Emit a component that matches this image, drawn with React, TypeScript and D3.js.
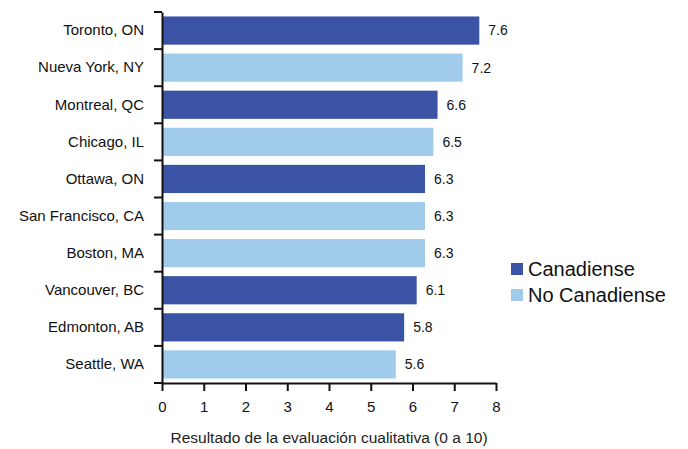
import { useEffect, useRef } from 'react'
import * as d3 from 'd3'

const CITIES = [
  'Toronto, ON', 'Nueva York, NY', 'Montreal, QC', 'Chicago, IL', 'Ottawa, ON',
  'San Francisco, CA', 'Boston, MA', 'Vancouver, BC', 'Edmonton, AB', 'Seattle, WA',
]
const SCORES = [7.6, 7.2, 6.6, 6.5, 6.3, 6.3, 6.3, 6.1, 5.8, 5.6]
const CANADIAN = [true, false, true, false, true, false, false, true, true, false]
const X_TICKS = [0, 1, 2, 3, 4, 5, 6, 7, 8]

const LEGEND = [
  { label: 'Canadiense', color: '#3A53A4' },
  { label: 'No Canadiense', color: '#A0CBEB' },
]

const W = 688
const H = 449
const MARGIN = { top: 12, right: 192, bottom: 66, left: 162 }
const FONT = '"Liberation Sans", Arial, Helvetica, sans-serif'

export default function App() {
  const svgRef = useRef<SVGSVGElement>(null)

  useEffect(() => {
    const svg = d3.select(svgRef.current!)
    svg.selectAll('*').remove()

    const innerH = H - MARGIN.top - MARGIN.bottom

    const g = svg.append('g').attr('transform', `translate(${MARGIN.left},${MARGIN.top})`)

    // ── Scales ────────────────────────────────────────────────────────
    const x = d3.scaleLinear([0, 8], [0, 334])
    const y = d3.scaleBand(CITIES, [0, innerH]).paddingInner(0.24).paddingOuter(0.12)

    // ── Bars ──────────────────────────────────────────────────────────
    g.selectAll('rect.bar')
      .data(CITIES)
      .join('rect')
      .attr('class', 'bar')
      .attr('x', 0)
      .attr('y', d => y(d)!)
      .attr('width', (_, i) => x(SCORES[i]))
      .attr('height', y.bandwidth())
      .attr('fill', (_, i) => (CANADIAN[i] ? LEGEND[0].color : LEGEND[1].color))

    // value labels
    g.selectAll('text.val')
      .data(CITIES)
      .join('text')
      .attr('class', 'val')
      .attr('x', (_, i) => x(SCORES[i]) + 9)
      .attr('y', d => y(d)! + y.bandwidth() / 2)
      .attr('dy', '0.35em')
      .attr('font-family', FONT).attr('font-size', 14).attr('fill', '#111')
      .text((_, i) => SCORES[i].toFixed(1))

    // ── Axes ──────────────────────────────────────────────────────────
    g.append('g')
      .call(d3.axisLeft(y).tickSize(0).tickPadding(18))
      .call(ag => ag.select('.domain').attr('stroke', '#111').attr('stroke-width', 2))
      .call(ag => ag.selectAll('text').attr('font-family', FONT).attr('font-size', 15).attr('fill', '#111'))

    // category separator ticks on y axis
    const bounds = d3.range(CITIES.length + 1).map(i => (i * innerH) / CITIES.length)
    g.selectAll('line.ytick')
      .data(bounds)
      .join('line')
      .attr('class', 'ytick')
      .attr('x1', -8).attr('x2', 0)
      .attr('y1', d => d).attr('y2', d => d)
      .attr('stroke', '#111').attr('stroke-width', 2)

    g.append('g')
      .attr('transform', `translate(0,${innerH})`)
      .call(d3.axisBottom(x).tickValues(X_TICKS).tickSize(8).tickPadding(10).tickSizeOuter(0))
      .call(ag => ag.select('.domain').attr('stroke', '#111').attr('stroke-width', 2))
      .call(ag => ag.selectAll('.tick line').attr('stroke', '#111').attr('stroke-width', 2))
      .call(ag => ag.selectAll('text').attr('font-family', FONT).attr('font-size', 15).attr('fill', '#111'))

    g.append('text')
      .attr('x', x(4)).attr('y', innerH + 60)
      .attr('text-anchor', 'middle')
      .attr('font-family', FONT).attr('font-size', 15.5).attr('fill', '#222')
      .text('Resultado de la evaluación cualitativa (0 a 10)')

    // ── Legend ────────────────────────────────────────────────────────
    const lg = svg.append('g').attr('transform', `translate(511,263)`)
    LEGEND.forEach(({ label, color }, i) => {
      lg.append('rect')
        .attr('x', 0).attr('y', i * 26)
        .attr('width', 12).attr('height', 12)
        .attr('fill', color)
      lg.append('text')
        .attr('x', 17).attr('y', i * 26 + 6)
        .attr('dy', '0.36em')
        .attr('font-family', FONT).attr('font-size', 20).attr('fill', '#111')
        .text(label)
    })
  }, [])

  return (
    <svg
      ref={svgRef}
      width={W}
      height={H}
      style={{ position: 'absolute', left: 0, top: 0, background: '#fff' }}
    />
  )
}
